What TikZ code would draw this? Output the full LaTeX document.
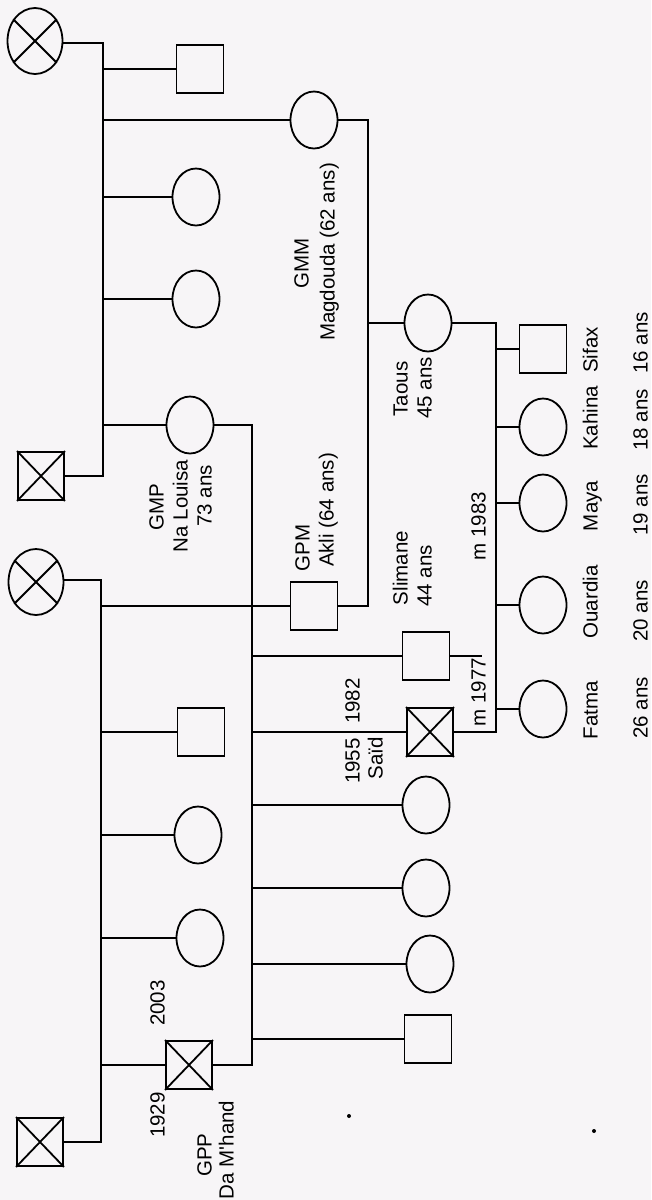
\documentclass[tikz,border=0pt]{standalone}
\usepackage{fontspec}
\setmainfont{Liberation Sans}
\usetikzlibrary{shapes.geometric}
\definecolor{paper}{RGB}{247,245,247}
\begin{document}
\begin{tikzpicture}[x=1pt,y=-1pt,
  ln/.style={line width=1.8pt},
  fem/.style={ellipse, draw, line width=1.8pt, minimum width=47pt, minimum height=57pt, inner sep=0pt},
  male/.style={rectangle, draw, line width=1.8pt, minimum width=47pt, minimum height=48pt, inner sep=0pt},
  femx/.style={ellipse, draw, line width=1.8pt, minimum width=55pt, minimum height=66pt, inner sep=0pt},
  malex/.style={rectangle, draw, line width=1.8pt, minimum width=46pt, minimum height=48pt, inner sep=0pt},
  lbl/.style={rotate=90, font=\fontsize{20.5}{24}\selectfont, inner sep=0pt, text height=15pt, text depth=0pt},
  speck/.style={circle, fill, inner sep=0pt, minimum size=4pt}]
\useasboundingbox (0,0) rectangle (651,1200);
\fill[paper] (0,0) rectangle (651,1200);
% ---- top family
\node[femx] (C1) at (35,41) {};
\node[malex] (SQ1) at (41,476) {};
\node[male] (A1) at (200,69) {};
\node[fem] (GMM) at (314,120) {};
\node[fem] (A2) at (196,197) {};
\node[fem] (A3) at (196,299) {};
\node[fem] (GMP) at (190,425) {};
% ---- middle family
\node[femx] (C2) at (36,582) {};
\node[malex] (SQ2) at (40,1142) {};
\node[male] (GPM) at (314,606) {};
\node[male] (B1) at (201,732) {};
\node[fem] (B2) at (198,835) {};
\node[fem] (B3) at (200,938) {};
\node[malex] (GPP) at (189,1065) {};
% ---- children of GPP / GMP
\node[male] (Slim) at (426,656) {};
\node[malex] (Said) at (430,732) {};
\node[fem] (D1) at (426,805) {};
\node[fem] (D2) at (426,888) {};
\node[fem] (D3) at (430,964) {};
\node[male] (D4) at (428,1039) {};
% ---- children of GPM / GMM
\node[fem] (Taous) at (428,323) {};
% ---- children of Said / Taous
\node[male] (Sifax) at (543,349) {};
\node[fem] (Kahina) at (543,427) {};
\node[fem] (Maya) at (543,503) {};
\node[fem] (Ouardia) at (543,605) {};
\node[fem] (Fatma) at (543,709) {};
% ---- crosses
\foreach \n in {C1,C2}{\draw[ln] (\n.45) -- (\n.225) (\n.135) -- (\n.315);}
\foreach \n in {SQ1,SQ2,GPP,Said}{\draw[ln] (\n.north east) -- (\n.south west) (\n.north west) -- (\n.south east);}
% ---- trunks
\coordinate (t1a) at (103,43);
\coordinate (t1b) at (103,476);
\draw[ln] (C1.east |- t1a) -- (t1a) -- (t1b) -- (SQ1.east);
\foreach \n in {A1,GMM,A2,A3,GMP}{\draw[ln] (\n.west -| t1a) -- (\n.west);}
\coordinate (t2a) at (101,580);
\coordinate (t2b) at (101,1142);
\draw[ln] (C2.east |- t2a) -- (t2a) -- (t2b) -- (SQ2.east);
\foreach \n in {GPM,B1,B2,B3,GPP}{\draw[ln] (\n.west -| t2a) -- (\n.west);}
\coordinate (m1) at (368,120);
\draw[ln] (GMM.east) -- (m1) -- (m1 |- GPM.east) -- (GPM.east);
\draw[ln] (Taous.west -| m1) -- (Taous.west);
\coordinate (m2) at (252,425);
\draw[ln] (GMP.east) -- (m2) -- (m2 |- GPP.east) -- (GPP.east);
\foreach \n in {Slim,Said,D1,D2,D3,D4}{\draw[ln] (\n.west -| m2) -- (\n.west);}
\coordinate (stub) at (482,656);
\draw[ln] (Slim.east) -- (stub);
\coordinate (m3) at (496,323);
\draw[ln] (Taous.east) -- (m3) -- (m3 |- Said.east) -- (Said.east);
\foreach \n in {Sifax,Kahina,Maya,Ouardia,Fatma}{\draw[ln] (\n.west -| m3) -- (\n.west);}
% ---- labels
\node[lbl] (lGMM) at (301,263) {GMM};
\node[lbl] (lMag) at (327,252) {Magdouda (62 ans)};
\node[lbl] (lGMP) at (156,507) {GMP};
\node[lbl] (lNaL) at (180,506) {Na Louisa};
\node[lbl] (l73) at (204,496) {73 ans};
\node[lbl] (lGPM) at (302,548) {GPM};
\node[lbl] (lAkli) at (326,510) {Akli (64 ans)};
\node[lbl] (lTaous) at (400,389) {Taous};
\node[lbl] (l45) at (424,388) {45 ans};
\node[lbl] (lSlim) at (400,568) {Slimane};
\node[lbl] (l44) at (424,576) {44 ans};
\node[lbl] (lm83) at (478,526) {m 1983};
\node[lbl] (lm77) at (478,692) {m 1977};
\node[lbl] (l1955) at (352,761) {1955};
\node[lbl] (l1982) at (352,701) {1982};
\node[lbl] (lSaid) at (375,758) {Saïd};
\node[lbl] (l2003) at (157,1003) {2003};
\node[lbl] (l1929) at (157,1115) {1929};
\node[lbl] (lGPP) at (204,1155) {GPP};
\node[lbl] (lDaM) at (226,1150) {Da M\textquotesingle hand};
\node[lbl] (lSifax) at (590,350) {Sifax};
\node[lbl] (lKahina) at (590,418) {Kahina};
\node[lbl] (lMaya) at (590,506) {Maya};
\node[lbl] (lOuardia) at (590,602) {Ouardia};
\node[lbl] (lFatma) at (590,710) {Fatma};
\node[lbl] (l16) at (640,343) {16 ans};
\node[lbl] (l18) at (640,420) {18 ans};
\node[lbl] (l19) at (640,505) {19 ans};
\node[lbl] (l20) at (640,611) {20 ans};
\node[lbl] (l26) at (640,708) {26 ans};
% ---- specks
\node[speck] (sp1) at (349,1116) {};
\node[speck] (sp2) at (594,1131) {};
\end{tikzpicture}
\end{document}
